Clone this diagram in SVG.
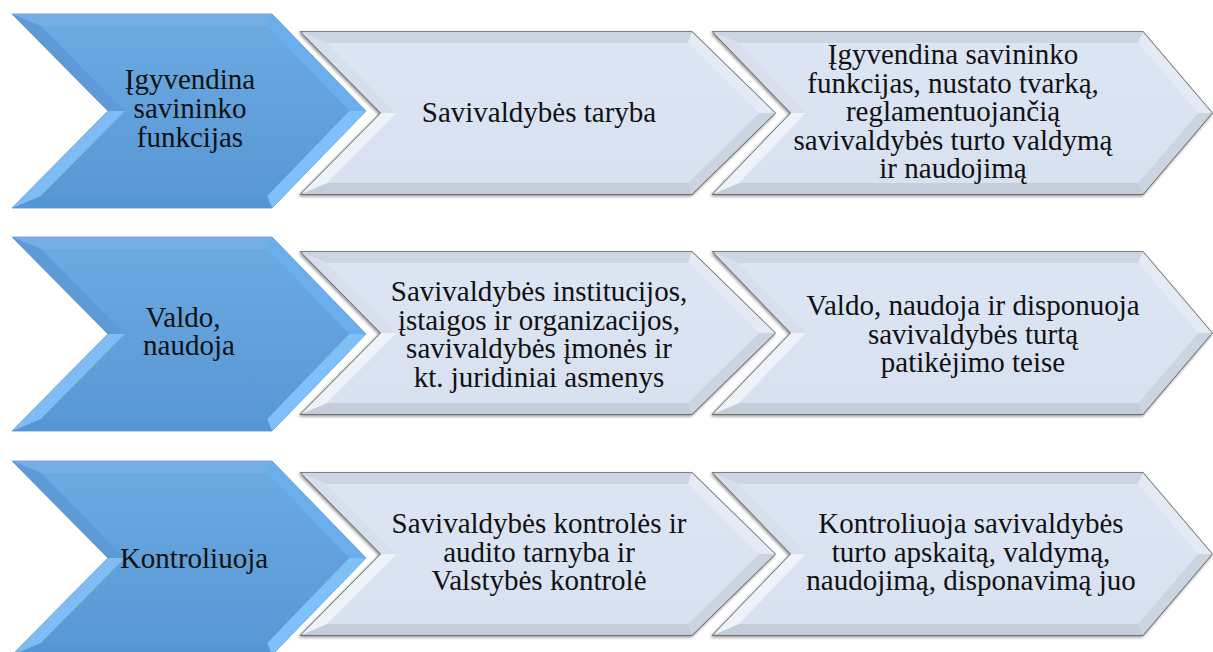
<svg xmlns="http://www.w3.org/2000/svg" width="1213" height="652" viewBox="0 0 1213 652">
<style>
.t{font-size:29px;fill:#111;text-anchor:middle}
.bo{fill:url(#bg);stroke:#5a8fc6;stroke-width:0.8}
.bt{fill:#74aee5}.bul{fill:#5d9bd7}.bll{fill:#80bcf1}.bur{fill:#6aaeec}.blr{fill:#7ec0f7}.bb{fill:#5596d4}
.bi{fill:url(#bg)}
.go{fill:#d9e3f2;stroke:#5e5e5e;stroke-width:1.4;filter:url(#sh)}
.gt{fill:#ccd5e2}.gul{fill:#d6dfeb}.gll{fill:#eef3fa}.gur{fill:#e5ebf4}.glr{fill:#cbd5e2}.gb{fill:#c4cedb}
.gi{fill:url(#gg)}
</style>
<defs>
<linearGradient id="bg" x1="0" y1="0" x2="0" y2="1">
<stop offset="0" stop-color="#6ba9e1"/><stop offset="1" stop-color="#5898d5"/>
</linearGradient>
<linearGradient id="gg" x1="0" y1="0" x2="0" y2="1">
<stop offset="0" stop-color="#dce5f3"/><stop offset="1" stop-color="#d7e1f0"/>
</linearGradient>
<filter id="sh" x="-5%" y="-10%" width="110%" height="125%">
<feDropShadow dx="-1" dy="1.5" stdDeviation="1.8" flood-color="#000" flood-opacity="0.45"/>
</filter>
<g id="blueShape">
<polygon class="bo" points="12,0 272,0 366,97 272,194 12,194 108,97"/>
<polygon class="bt" points="12,0 272,0 267,12 41,12"/>
<polygon class="bur" points="272,0 366,97 349,97 267,12"/>
<polygon class="blr" points="366,97 272,194 267,182 349,97"/>
<polygon class="bb" points="272,194 12,194 41,182 267,182"/>
<polygon class="bll" points="12,194 108,97 125,97 41,182"/>
<polygon class="bul" points="108,97 12,0 41,12 125,97"/>
<polygon class="bi" points="41,12 267,12 349,97 267,182 41,182 125,97"/>
</g>
<g id="grey1Shape">
<polygon class="go" points="301,0 692,0 775,81 692,162 301,162 381,81"/>
<polygon class="gt" points="301,0 692,0 688,11 327,11"/>
<polygon class="gur" points="692,0 775,81 759,81 688,11"/>
<polygon class="glr" points="775,81 692,162 688,151 759,81"/>
<polygon class="gb" points="692,162 301,162 327,151 688,151"/>
<polygon class="gll" points="301,162 381,81 397,81 327,151"/>
<polygon class="gul" points="381,81 301,0 327,11 397,81"/>
<polygon class="gi" points="327,11 688,11 759,81 688,151 327,151 397,81"/>
</g>
<g id="grey2Shape">
<polygon class="go" points="713,0 1143,0 1212,81 1143,162 713,162 791,81"/>
<polygon class="gt" points="713,0 1143,0 1138,11 739,11"/>
<polygon class="gur" points="1143,0 1212,81 1198,81 1138,11"/>
<polygon class="glr" points="1212,81 1143,162 1138,151 1198,81"/>
<polygon class="gb" points="1143,162 713,162 739,151 1138,151"/>
<polygon class="gll" points="713,162 791,81 806,81 739,151"/>
<polygon class="gul" points="791,81 713,0 739,11 806,81"/>
<polygon class="gi" points="739,11 1138,11 1198,81 1138,151 739,151 806,81"/>
</g>
</defs>
<rect width="1213" height="652" fill="#fff"/>
<g id="connectors"/>

<g id="nodes" font-family="'Liberation Serif', 'Times New Roman', 'DejaVu Serif', serif">
<g id="r1c3">
<use href="#grey2Shape" transform="translate(0,32)"/>
<text class="t" x="953" y="64">Įgyvendina savininko</text>
<text class="t" x="953" y="92.5">funkcijas, nustato tvarką,</text>
<text class="t" x="953" y="121">reglamentuojančią</text>
<text class="t" x="953" y="149.5">savivaldybės turto valdymą</text>
<text class="t" x="953" y="178">ir naudojimą</text>
</g>
<g id="r1c2">
<use href="#grey1Shape" transform="translate(0,32)"/>
<text class="t" x="539" y="122">Savivaldybės taryba</text>
</g>
<g id="r1c1">
<use href="#blueShape" transform="translate(0,14)"/>
<text class="t" x="190" y="89">Įgyvendina</text>
<text class="t" x="190" y="118">savininko</text>
<text class="t" x="190" y="147">funkcijas</text>
</g>

<g id="r2c3">
<use href="#grey2Shape" transform="translate(0,252)"/>
<text class="t" x="973" y="315">Valdo, naudoja ir disponuoja</text>
<text class="t" x="973" y="343.5">savivaldybės turtą</text>
<text class="t" x="973" y="372">patikėjimo teise</text>
</g>
<g id="r2c2">
<use href="#grey1Shape" transform="translate(0,252)"/>
<text class="t" x="539" y="301">Savivaldybės institucijos,</text>
<text class="t" x="539" y="329.5">įstaigos ir organizacijos,</text>
<text class="t" x="539" y="358">savivaldybės įmonės ir</text>
<text class="t" x="539" y="386.5">kt. juridiniai asmenys</text>
</g>
<g id="r2c1">
<use href="#blueShape" transform="translate(0,237)"/>
<text class="t" x="183" y="327">Valdo,</text>
<text class="t" x="189" y="355">naudoja</text>
</g>

<g id="r3c3">
<use href="#grey2Shape" transform="translate(0,473)"/>
<text class="t" x="971" y="533">Kontroliuoja savivaldybės</text>
<text class="t" x="971" y="561.5">turto apskaitą, valdymą,</text>
<text class="t" x="971" y="590">naudojimą, disponavimą juo</text>
</g>
<g id="r3c2">
<use href="#grey1Shape" transform="translate(0,473)"/>
<text class="t" x="539" y="533">Savivaldybės kontrolės ir</text>
<text class="t" x="539" y="561.5">audito tarnyba ir</text>
<text class="t" x="539" y="590">Valstybės kontrolė</text>
</g>
<g id="r3c1">
<use href="#blueShape" transform="translate(0,461)"/>
<text class="t" x="194" y="568">Kontroliuoja</text>
</g>
</g>
</svg>
